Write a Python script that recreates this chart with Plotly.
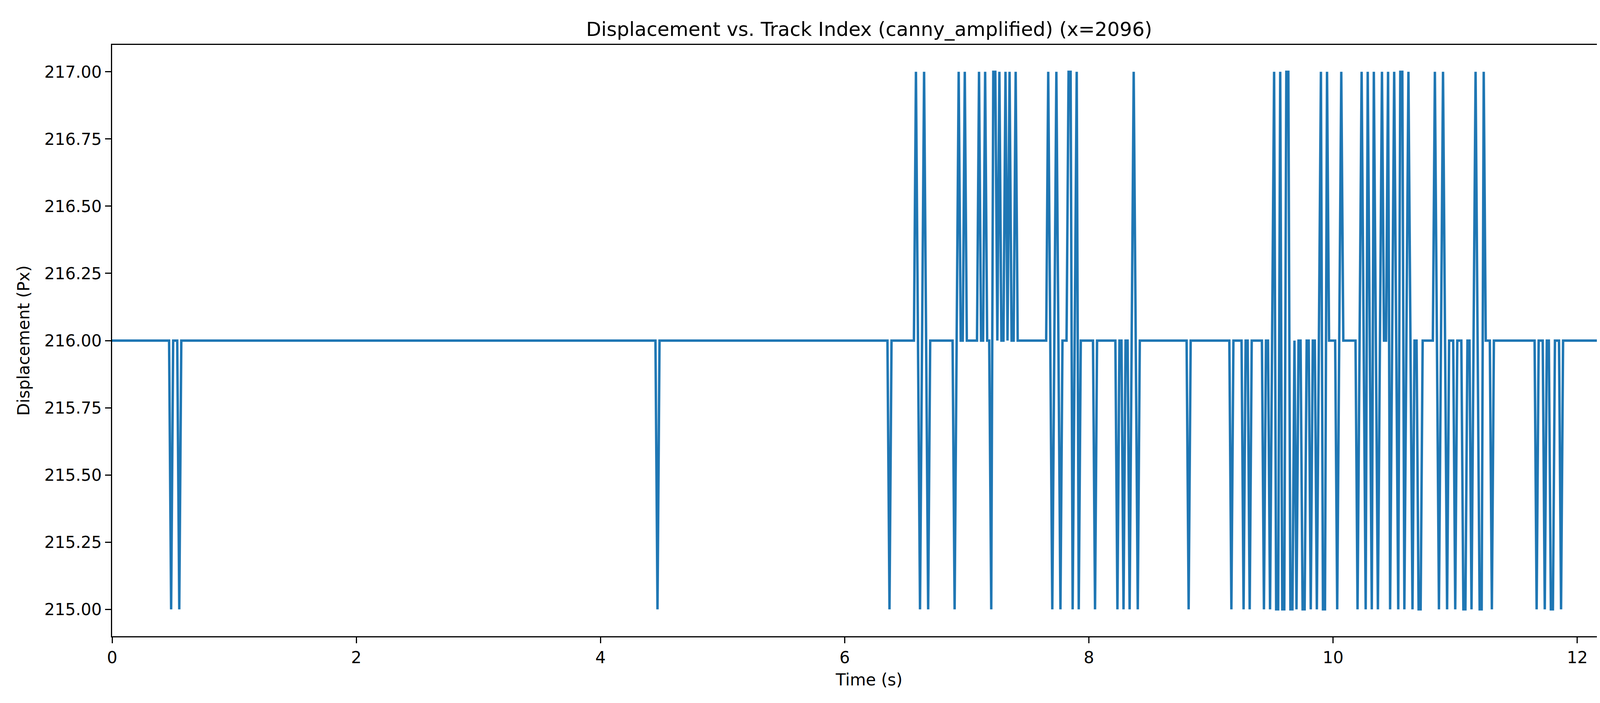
import numpy as np
import plotly.graph_objects as go

# track sampled at 60 fps, baseline displacement 216 px
fps = 60
duration = 12.4
baseline = 216

# times (s) where displacement drops to 215
low_times = [0.480, 0.548, 4.473, 6.359, 6.624, 6.690, 6.908, 7.193, 7.241,
             7.693, 7.759, 7.860, 7.911, 8.044, 8.228, 8.278, 8.327, 8.393,
             8.809, 9.161, 9.260, 9.311, 9.427, 9.479, 9.528, 9.547, 9.581,
             9.597, 9.646, 9.663, 9.695, 9.746, 9.763, 9.812, 9.861, 9.911,
             9.929, 10.030, 10.197, 10.263, 10.312, 10.363, 10.460, 10.530,
             10.579, 10.645, 10.697, 10.713, 10.862, 10.930, 10.996, 11.064,
             11.081, 11.130, 11.199, 11.216, 11.298, 11.665, 11.732, 11.782,
             11.798, 11.865]
# times (s) where displacement rises to 217
high_times = [6.591, 6.658, 6.940, 6.987, 7.108, 7.157, 7.209, 7.226, 7.275,
              7.324, 7.344, 7.393, 7.673, 7.727, 7.825, 7.845, 7.894, 8.361,
              9.511, 9.560, 9.613, 9.630, 9.894, 9.946, 10.063, 10.228, 10.279,
              10.329, 10.396, 10.445, 10.496, 10.546, 10.564, 10.612, 10.830,
              10.897, 11.163, 11.231]

n = int(round(duration * fps)) + 1
time = np.arange(n) / fps
disp = np.full(n, float(baseline))
for t in low_times:
    disp[int(round(t * fps))] = 215
for t in high_times:
    disp[int(round(t * fps))] = 217

fig = go.Figure(go.Scatter(x=time, y=disp, mode="lines",
                           line=dict(color="#1f77b4", width=6.25)))

axis_common = dict(showline=True, mirror=True, linecolor="black", linewidth=3.3,
                   ticks="outside", ticklen=15, tickwidth=3.3, tickcolor="black",
                   showgrid=False, zeroline=False,
                   tickfont=dict(family="DejaVu Sans", size=42, color="black"))

fig.update_layout(
    width=4200, height=1800,
    plot_bgcolor="white", paper_bgcolor="white",
    margin=dict(l=279, r=45, t=107, b=179),
    showlegend=False,
    title=dict(text="Displacement vs. Track Index (canny_amplified) (x=2096)",
               x=(279 + 4155) / 2 / 4200, xanchor="center", y=1 - 66 / 1800, yanchor="middle",
               font=dict(family="DejaVu Sans", size=50, color="black")),
    xaxis=dict(axis_common, range=[0, duration], dtick=2,
               title=dict(text="Time (s)", standoff=20,
                          font=dict(family="DejaVu Sans", size=42, color="black"))),
    yaxis=dict(axis_common, range=[214.9, 217.1], dtick=0.25, tickformat=".2f",
               title=dict(text="Displacement (Px)", standoff=25,
                          font=dict(family="DejaVu Sans", size=42, color="black"))),
)

fig.write_html("out.html")
